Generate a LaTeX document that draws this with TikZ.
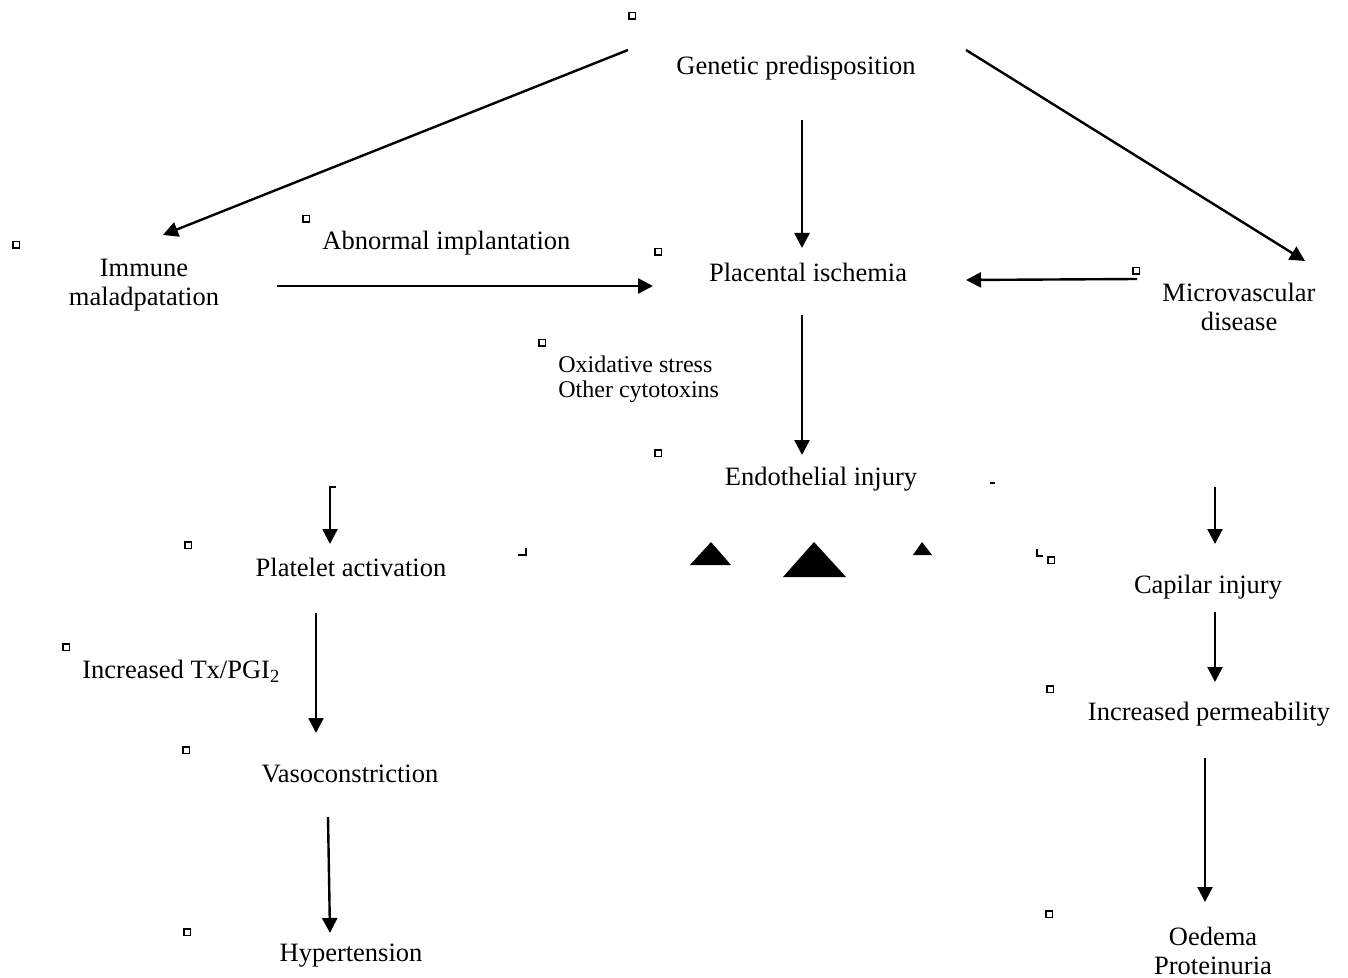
\documentclass[tikz,border=0pt]{standalone}
\usepackage{fontspec}
\setmainfont{Liberation Serif}
\usetikzlibrary{arrows.meta}
\begin{document}
\begin{tikzpicture}[x=0.5pt,y=-0.5pt,
  lbl/.style={inner sep=0pt, font=\fontsize{13.25}{14.5}\selectfont, align=center},
  sml/.style={inner sep=0pt, font=\fontsize{12}{12.5}\selectfont, align=left},
  arr/.style={line width=1.2pt, -{Triangle[length=7.5pt,width=7.5pt]}},
  sq/.style={draw, line width=0.7pt, minimum size=3.2pt, inner sep=0pt},
  tickln/.style={line width=1pt},
  tri/.style={fill=black}
]
\useasboundingbox (0,0) rectangle (1348,978);

% text nodes (multi-line nodes: base = last line)
\node[lbl, anchor=base] (gen) at (796,75) {Genetic predisposition};
\node[lbl, anchor=base] (imm) at (144,306) {Immune\\maladpatation};
\node[lbl, anchor=base west] (abn) at (322,250) {Abnormal implantation};
\node[lbl, anchor=base] (pla) at (808,282) {Placental ischemia};
\node[lbl, anchor=base] (mic) at (1239,331) {Microvascular\\disease};
\node[sml, anchor=base west] (oxi) at (558,397) {Oxidative stress\\Other cytotoxins};
\node[lbl, anchor=base] (end) at (821,485) {Endothelial injury};
\node[lbl, anchor=base] (plt) at (351,576) {Platelet activation};
\node[lbl, anchor=base] (cap) at (1208,593) {Capilar injury};
\node[lbl, anchor=base west] (txp) at (82,678) {Increased Tx/PGI\textsubscript{2}};
\node[lbl, anchor=base] (per) at (1209,720) {Increased permeability};
\node[lbl, anchor=base] (vas) at (350,782) {Vasoconstriction};
\node[lbl, anchor=base] (hyp) at (351,961) {Hypertension};
\node[lbl, anchor=base] (oed) at (1213,974) {Oedema\\Proteinuria};

% small squares
\foreach \n/\x/\y in {s1/632/16, s2/16/245, s3/306/219, s4/658/252, s5/1136/271,
  s6/542/343, s7/658/453, s8/188/545, s9/1051/560, s10/66/647, s11/1050/689,
  s12/186/750, s13/187/932, s14/1049/914}
  \node[sq] (\n) at (\x,\y) {};

% arrow end points
\coordinate (a1s) at (628,50);   \coordinate (a1e) at (163,235);
\coordinate (a2s) at (802,120);  \coordinate (a2e) at (802,248);
\coordinate (a3s) at (966,50);   \coordinate (a3e) at (1305,261);
\coordinate (a4s) at (277,286);  \coordinate (a4e) at (653,286);
\coordinate (a5s) at (1137,279); \coordinate (a5e) at (966,280);
\coordinate (a6s) at (802,315);  \coordinate (a6e) at (802,455);
\coordinate (a7s) at (336,487);  \coordinate (a7k) at (330,487); \coordinate (a7e) at (330,544);
\coordinate (a8s) at (1215,487); \coordinate (a8e) at (1215,544);
\coordinate (a9s) at (1215,612); \coordinate (a9e) at (1215,682);
\coordinate (a10s) at (1205,758); \coordinate (a10e) at (1205,902);
\coordinate (a11s) at (316,613); \coordinate (a11e) at (316,733);
\coordinate (a12s) at (328,817); \coordinate (a12e) at (330,933);

\draw[arr] (a1s) -- (a1e);
\draw[arr] (a2s) -- (a2e);
\draw[arr] (a3s) -- (a3e);
\draw[arr] (a4s) -- (a4e);
\draw[arr] (a5s) -- (a5e);
\draw[arr] (a6s) -- (a6e);
\draw[arr] (a7s) -- (a7k) -- (a7e);
\draw[arr] (a8s) -- (a8e);
\draw[arr] (a9s) -- (a9e);
\draw[arr] (a10s) -- (a10e);
\draw[arr] (a11s) -- (a11e);
\draw[arr] (a12s) -- (a12e);

% small stray marks
\draw[tickln] (526,548) -- (526,555) -- (518,555);
\draw[tickln] (990,483) -- (995,483);
\draw[tickln] (1037,549) -- (1037,556) -- (1043,556);

% triangles
\fill[tri] (690,565) -- (711,542) -- (731,565) -- cycle;
\fill[tri] (783,577) -- (814,542) -- (846,577) -- cycle;
\fill[tri] (913,555) -- (922,542) -- (932,555) -- cycle;
\end{tikzpicture}
\end{document}
